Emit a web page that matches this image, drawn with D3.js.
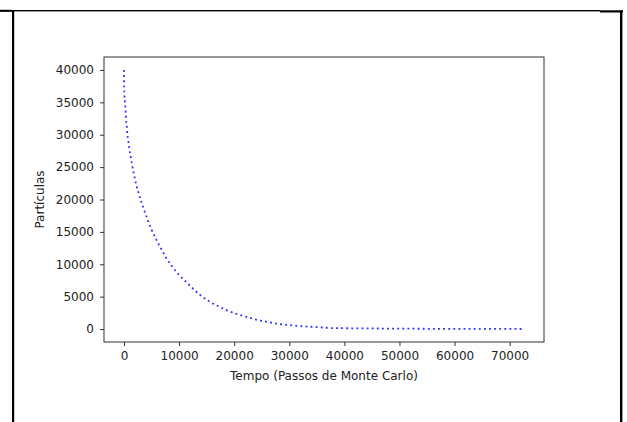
<!DOCTYPE html>
<html>
<head>
<meta charset="utf-8">
<script src="https://cdn.jsdelivr.net/npm/d3@7"></script>
<style>
  html, body { margin: 0; padding: 0; background: #fff; }
  svg { display: block; }
  text { font-family: "DejaVu Sans", sans-serif; fill: #222; }
</style>
</head>
<body>
<svg id="chart" width="627" height="422"></svg>
<script>
const timeSteps = [0, 54, 181, 308, 417, 544, 598, 725, 852, 961, 1143, 1451, 1814, 2231, 2720, 3319, 3627, 4298, 4951, 5749, 6656, 7563, 8651, 9848, 11117, 13910, 15542, 17174, 18861, 20674, 22488, 24302, 26170, 28056, 29978, 31918, 33786, 35673, 37595, 42202, 50000, 60000, 72500];
const particles = [40000, 36600, 35010, 33360, 31770, 31000, 30160, 29390, 28570, 27800, 26980, 25440, 23830, 22290, 20740, 19200, 18420, 16880, 15440, 14010, 12510, 11120, 9780, 8490, 7410, 5200, 4220, 3510, 2830, 2270, 1810, 1390, 1080, 770, 620, 460, 355, 260, 155, 110, 60, 30, 10];
const xTicks = [0, 10000, 20000, 30000, 40000, 50000, 60000, 70000];
const yTicks = [0, 5000, 10000, 15000, 20000, 25000, 30000, 35000, 40000];
const xLabel = "Tempo (Passos de Monte Carlo)";
const yLabel = "Partículas";

const svg = d3.select("#chart");
const L = 104, R = 544, T = 57, B = 342;

// outer frame lines
svg.append("rect").attr("x", 0).attr("y", 10).attr("width", 600).attr("height", 1.4).attr("fill", "#000");
svg.append("rect").attr("x", 0).attr("y", 9.8).attr("width", 12).attr("height", 2).attr("fill", "#000");
svg.append("rect").attr("x", 600).attr("y", 10.3).attr("width", 23).attr("height", 2.2).attr("fill", "#000");
svg.append("rect").attr("x", 12).attr("y", 10).attr("width", 2.2).attr("height", 412).attr("fill", "#000");
svg.append("rect").attr("x", 620).attr("y", 10.3).attr("width", 2.4).attr("height", 412).attr("fill", "#000");

const xMin = 0, xMax = 72600;
const xPad = (xMax - xMin) * 0.05;
const x = d3.scaleLinear().domain([xMin - xPad, xMax + xPad]).range([L, R]);
const y = d3.scaleLinear().domain([-2000, 42000]).range([B, T]);

const xAxis = d3.axisBottom(x).tickValues(xTicks).tickFormat(d3.format("d")).tickSize(4).tickPadding(5);
const yAxis = d3.axisLeft(y).tickValues(yTicks).tickFormat(d3.format("d")).tickSize(4).tickPadding(6);

const gx = svg.append("g").attr("transform", `translate(0,${B})`).call(xAxis);
const gy = svg.append("g").attr("transform", `translate(${L},0)`).call(yAxis);
[gx, gy].forEach(g => {
  g.select(".domain").remove();
  g.selectAll(".tick line").attr("stroke", "#333").attr("stroke-width", 1);
  g.selectAll(".tick text").attr("font-size", 12).attr("font-family", "DejaVu Sans").attr("fill", "#222");
});

// line
const data = timeSteps.map((t, i) => [t, particles[i]]);
const line = d3.line().x(d => x(d[0])).y(d => y(d[1])).curve(d3.curveMonotoneX);
svg.append("path").datum(data)
  .attr("d", line)
  .attr("fill", "none")
  .attr("stroke", "#3333ff")
  .attr("stroke-width", 1.8)
  .attr("stroke-dasharray", "1.9,3.2");

// plot frame
svg.append("rect").attr("x", L).attr("y", T).attr("width", R - L).attr("height", B - T)
  .attr("fill", "none").attr("stroke", "#333").attr("stroke-width", 1);

svg.append("text").attr("x", (L + R) / 2).attr("y", 380).attr("text-anchor", "middle")
  .attr("font-size", 12).text(xLabel);
svg.append("text").attr("transform", `translate(44,${(T + B) / 2}) rotate(-90)`).attr("text-anchor", "middle")
  .attr("font-size", 12).text(yLabel);
</script>
</body>
</html>
